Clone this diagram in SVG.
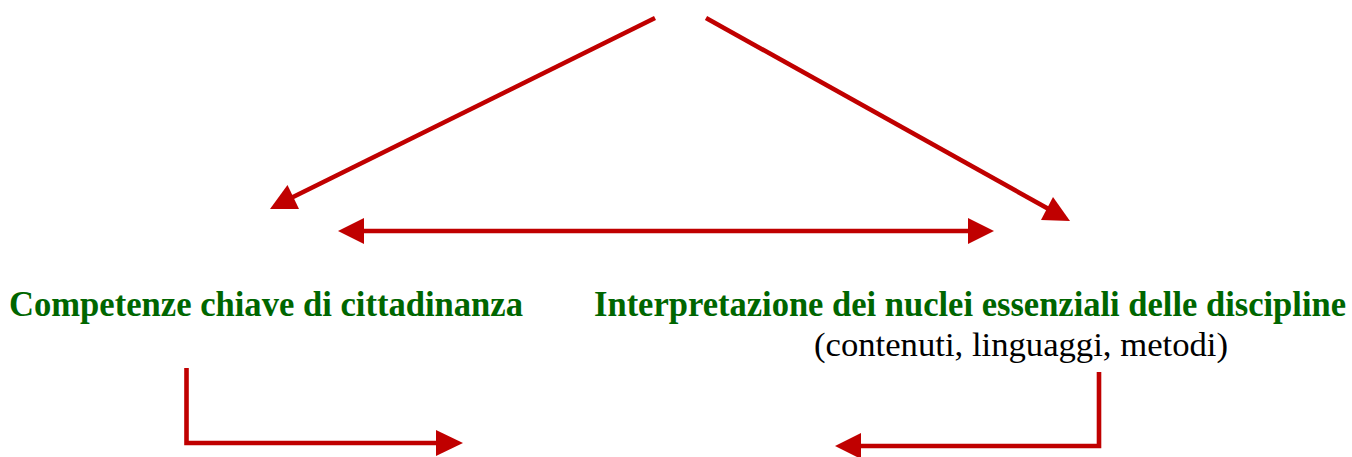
<svg xmlns="http://www.w3.org/2000/svg" width="1352" height="457" viewBox="0 0 1352 457">
<style>
.ln{fill:none;stroke:#C00000;stroke-width:4.6;stroke-linecap:butt;stroke-linejoin:miter}
.hd{fill:#C00000;stroke:none}
.ttl{font-family:"Liberation Serif","Times New Roman",serif;font-weight:bold;font-size:34.4px;fill:#006600}
.sub{font-family:"Liberation Serif","Times New Roman",serif;font-size:34.6px;fill:#000000}
</style>
<rect width="1352" height="457" fill="#FFFFFF"/>
<g id="connectors">
<line class="ln" x1="655" y1="18" x2="289" y2="199"/>
<polygon class="hd" points="270,209 287.5,185 299,209"/>
<line class="ln" x1="706" y1="18" x2="1054" y2="212"/>
<polygon class="hd" points="1041,220 1053,197 1070,221"/>
<line class="ln" x1="362" y1="231" x2="970" y2="231"/>
<polygon class="hd" points="338,231 364,218 364,244"/>
<polygon class="hd" points="994,231 968,218 968,244"/>
<polyline class="ln" points="186.5,368 186.5,443 438,443"/>
<polygon class="hd" points="463,443 436,430 436,456"/>
<polyline class="ln" points="1099,372 1099,446 859,446"/>
<polygon class="hd" points="835,446 861,433 861,459"/>
</g>
<g id="node-competenze">
<text class="ttl" transform="translate(9,316) scale(1,1.07)" x="0" y="0" textLength="514" lengthAdjust="spacingAndGlyphs">Competenze chiave di cittadinanza</text>
</g>
<g id="node-interpretazione">
<text class="ttl" transform="translate(594,316) scale(1,1.07)" x="0" y="0" textLength="752" lengthAdjust="spacingAndGlyphs">Interpretazione dei nuclei essenziali delle discipline</text>
<text class="sub" x="814" y="356" textLength="414" lengthAdjust="spacingAndGlyphs">(contenuti, linguaggi, metodi)</text>
</g>
</svg>
